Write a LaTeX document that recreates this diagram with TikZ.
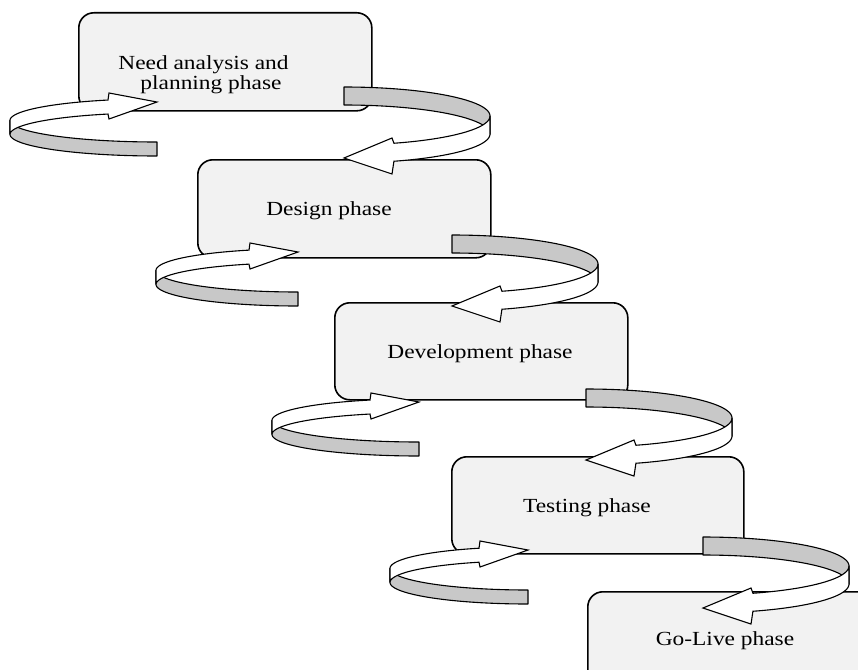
\documentclass[tikz,border=0pt]{standalone}
\usepackage{fontspec}
\setmainfont[FakeStretch=1.17]{Liberation Serif}
\definecolor{boxfill}{RGB}{242,242,242}
\definecolor{bandgray}{RGB}{200,200,200}
\tikzset{
  phase/.style={draw=black, line width=1.6pt, fill=boxfill, rounded corners=15pt,
    inner sep=0pt, anchor=north west, minimum width=293pt, minimum height=98pt},
  phasetext/.style={font=\fontsize{20}{20}\selectfont, anchor=base, inner sep=0pt},
  ribbonback/.style={draw=black, line width=1.1pt, fill=bandgray, line join=round},
  ribbonfront/.style={draw=black, line width=1.1pt, fill=white, line join=miter},
}
% right loop: #1 = x of the flat end, #2 = top of the band
\newcommand\rightloop[2]{%
  \pgfmathsetmacro\myc{#2+29}%
  \path[ribbonback] plot[domain=90:0,samples=50] ({#1+146*cos(\x)},{\myc-29*sin(\x)})
    -- plot[domain=0:90,samples=50] ({#1+146*cos(\x)},{\myc+18-29*sin(\x)}) -- cycle;
  \path[ribbonfront] plot[domain=0:-70,samples=50] ({#1+146*cos(\x)},{\myc-29*sin(\x)})
    -- ({#1+48},{#2+51}) -- ({#1},{#2+71}) -- ({#1+48},{#2+87})
    -- plot[domain=-70:0,samples=50] ({#1+146*cos(\x)},{\myc+18-29*sin(\x)}) -- cycle;
}
% left loop: #1 = x of the flat end, #2 = bottom of the band, #3 = half width
\newcommand\leftloop[3]{%
  \pgfmathsetmacro\myend{acos(-49/#3)}%
  \pgfmathsetmacro\myc{#2-35.6}%
  \path[ribbonback] plot[domain=-90:-180,samples=50] ({#1+#3*cos(\x)},{\myc-21.6*sin(\x)})
    -- plot[domain=-180:-90,samples=50] ({#1+#3*cos(\x)},{\myc+14-21.6*sin(\x)}) -- cycle;
  \path[ribbonfront] plot[domain=180:\myend,samples=50] ({#1+#3*cos(\x)},{\myc-21.6*sin(\x)})
    -- ({#1-48},{#2-63}) -- ({#1},{#2-54}) -- ({#1-48},{#2-37})
    -- plot[domain=\myend:180,samples=50] ({#1+#3*cos(\x)},{\myc+14-21.6*sin(\x)}) -- cycle;
}
\begin{document}
\begin{tikzpicture}[x=1pt,y=-1pt]
\useasboundingbox (0,0) rectangle (858,669);
\clip (0,0) rectangle (858,669);
% phase boxes
\node[phase] (b1) at (78,12) {};
\node[phase] (b2) at (197,159) {};
\node[phase, minimum height=97pt] (b3) at (334,302) {};
\node[phase, minimum width=292pt, minimum height=97pt] (b4) at (451,456) {};
\node[phase] (b5) at (587,591) {};
% texts
\node[phasetext] (t1a) at (203.5,69) {Need analysis and};
\node[phasetext] (t1b) at (211,89) {planning phase};
\node[phasetext] (t2) at (329,215) {Design phase};
\node[phasetext] (t3) at (480,358) {Development phase};
\node[phasetext] (t4) at (587,512) {Testing phase};
\node[phasetext] (t5) at (725,645) {Go-Live phase};
% ribbons
\leftloop{157}{156}{147}
\rightloop{344}{87}
\leftloop{298}{306}{142}
\rightloop{452}{235}
\leftloop{419}{456}{147}
\rightloop{586}{389}
\leftloop{528}{604}{138}
\rightloop{703}{537}
\end{tikzpicture}
\end{document}
